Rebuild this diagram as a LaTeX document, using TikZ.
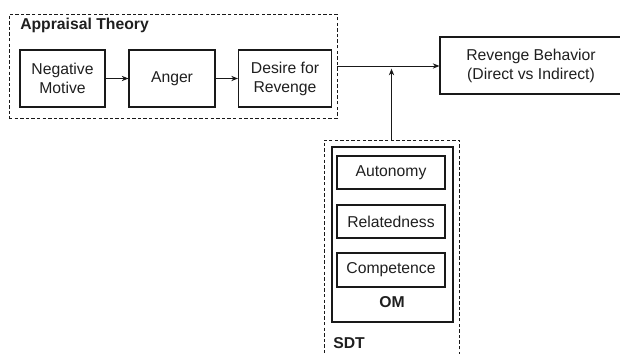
\documentclass[tikz,border=0pt]{standalone}
\usepackage{fontspec}
\setmainfont{Liberation Sans}
\usetikzlibrary{arrows.meta}
\begin{document}
\begin{tikzpicture}[x=0.75pt,y=-0.75pt,
  every node/.style={font=\fontsize{11.8}{14.3}\selectfont, text=black!88},
  sz/.style 2 args={minimum width={#1*0.75pt}, minimum height={#2*0.75pt}},
  box/.style={draw=black!90, line width=0.9pt, inner sep=0pt, align=center},
  grp/.style={draw=black!90, line width=0.7pt, dash pattern=on 2.6pt off 1.6pt, inner sep=0pt},
  lbl/.style={font=\fontsize{11.8}{14.3}\selectfont\bfseries, inner sep=0pt},
  conn/.style={draw=black!90, line width=0.7pt, -{Stealth[length=5pt,width=4pt]}}]
\useasboundingbox (0,0) rectangle (620,353);
% Appraisal group
\node[grp, sz={328}{104}] (appr) at (173,66) {};
\node[lbl, anchor=west] (apprlbl) at (20,25) {Appraisal Theory};
\node[box, sz={85}{57}] (neg) at (62.5,78.5) {Negative\\Motive};
\node[box, sz={86}{57}] (anger) at (172,78.5) {Anger};
\node[box, sz={93}{57}] (desire) at (285,78.5) {Desire for\\Revenge};
% Outcome
\node[box, sz={182}{57}] (rev) at (531,65.5) {Revenge Behavior\\(Direct vs Indirect)};
% SDT group
\node[grp, sz={135}{220}] (sdt) at (391.5,250) {};
\node[box, sz={121}{175}] (om) at (392.5,234.5) {};
\node[box, sz={108}{33}] (auto) at (391,172.5) {Autonomy};
\node[box, sz={108}{33}] (rel) at (391,221.5) {Relatedness};
\node[box, sz={108}{34}] (comp) at (391,270) {Competence};
\node[lbl] (omlbl) at (392,302) {OM};
\node[lbl, anchor=west] (sdtlbl) at (333,343) {SDT};
% connectors
\draw[conn] (neg) -- (anger);
\draw[conn] (anger) -- (desire);
\draw[conn] (appr.east) -- (rev.west |- appr.east);
\draw[conn] (sdt.north) -- ([yshift=-2pt]sdt.north |- appr.east);
\end{tikzpicture}
\end{document}
